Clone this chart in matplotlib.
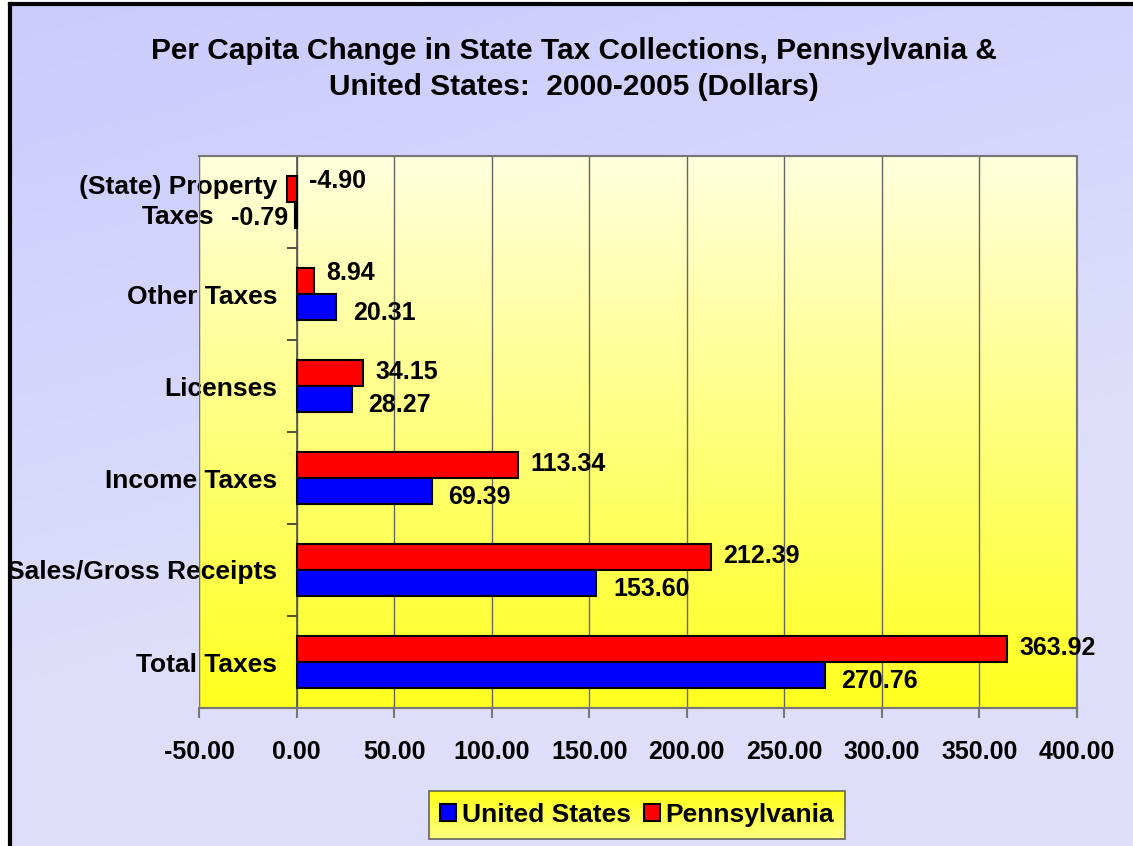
import numpy as np
import matplotlib.pyplot as plt
from matplotlib.patches import Rectangle

plt.rcParams['font.family'] = ['Liberation Sans', 'DejaVu Sans']
plt.rcParams['font.weight'] = 'bold'

categories = ['(State) Property\nTaxes', 'Other Taxes', 'Licenses',
              'Income Taxes', 'Sales/Gross Receipts', 'Total Taxes']
us_values = [-0.79, 20.31, 28.27, 69.39, 153.60, 270.76]
pa_values = [-4.90, 8.94, 34.15, 113.34, 212.39, 363.92]
x_ticks = [-50, 0, 50, 100, 150, 200, 250, 300, 350, 400]

W, H = 1133, 846
fig = plt.figure(figsize=[W / 100, H / 100], dpi=100, facecolor='white')

# background with lavender gradient and black frame (left/top only visible)
bg = fig.add_axes([9.5 / W, -0.01, 1.0, 1.01 - 4.5 / H], zorder=-5)
gx, gy = np.meshgrid(np.linspace(0, 1, 200), np.linspace(0, 1, 200))
t = np.clip((gx * 0.35 + gy) / 0.8, 0, 1)
c0 = np.array([203, 203, 255]) / 255
c1 = np.array([222, 222, 250]) / 255
bg.imshow(c0 + (c1 - c0) * t[..., None], extent=[0, 1, 0, 1],
          aspect='auto', origin='upper')
bg.set_xticks([])
bg.set_yticks([])
for s in ['right', 'bottom']:
    bg.spines[s].set_visible(False)
for s in ['left', 'top']:
    bg.spines[s].set_linewidth(3)
    bg.spines[s].set_color('black')

ax = fig.add_axes([199 / W, 1 - 708 / H, (1077 - 199) / W, (708 - 156) / H])
ax.patch.set_visible(False)

# plot area yellow gradient
py = np.linspace(0, 1, 200)[:, None]
y0 = np.array([255, 255, 222]) / 255
y1 = np.array([255, 255, 30]) / 255
ax.imshow((y0 + (y1 - y0) * py)[:, None, :].repeat(2, axis=1),
          extent=[0, 1, 0, 1], transform=ax.transAxes, aspect='auto',
          origin='upper', zorder=0)

ypos = np.arange(len(categories))
bar_h = 0.283
ax.barh(ypos - bar_h / 2, pa_values, height=bar_h, color='#FF0000',
        edgecolor='black', linewidth=1.5, zorder=3, label='Pennsylvania')
ax.barh(ypos + bar_h / 2, us_values, height=bar_h, color='#0000FF',
        edgecolor='black', linewidth=1.5, zorder=3, label='United States')

ax.set_xlim(-50, 400)
ax.set_ylim(len(categories) - 0.5, -0.5)

# data labels
for i, v in enumerate(pa_values):
    dy = 6 if v < 10 else 1
    ax.annotate(f'{v:.2f}', (max(v, 0), i - bar_h / 2), xytext=(9, dy),
                textcoords='offset points', ha='left', va='center',
                fontsize=18, fontweight='bold', zorder=4)
for i, v in enumerate(us_values):
    if v < 0:
        ax.annotate(f'{v:.2f}', (v, i + bar_h / 2), xytext=(-5, -2),
                    textcoords='offset points', ha='right', va='center',
                    fontsize=18, fontweight='bold', zorder=4)
    else:
        ax.annotate(f'{v:.2f}', (v, i + bar_h / 2), xytext=(12, -4),
                    textcoords='offset points', ha='left', va='center',
                    fontsize=18, fontweight='bold', zorder=4)

# axes styling
ax.set_xticks(x_ticks)
ax.set_xticklabels([f'{x:.2f}' for x in x_ticks], fontsize=18, fontweight='bold')
ax.tick_params(axis='x', direction='out', length=7, width=1.5, color='#777777', pad=16)
ax.grid(axis='x', color='#666666', linewidth=1, zorder=1)
ax.set_axisbelow(True)

ax.spines['left'].set_position(('data', 0))
ax.spines['left'].set_color('#555555')
ax.spines['left'].set_linewidth(1.2)
ax.spines['left'].set_zorder(2)
for s in ['top', 'right', 'bottom']:
    ax.spines[s].set_color('#777777')
    ax.spines[s].set_linewidth(1.5)
ax.add_patch(Rectangle((0, 0), 1, 1, transform=ax.transAxes, fill=False,
                       edgecolor='#777777', linewidth=1.5, zorder=2))

ax.set_yticks(ypos)
ax.set_yticklabels(categories, fontsize=19, fontweight='bold', ha='right',
                   multialignment='center', linespacing=1.3)
ax.get_yticklabels()[0].set_va('center')
ax.set_yticks(np.arange(len(categories) + 1) - 0.5, minor=True)
ax.tick_params(axis='y', which='major', length=0, pad=14)
ax.tick_params(axis='y', which='minor', length=7, width=1.2, color='#333333')

fig.text(574 / W, 1 - 69 / H,
         'Per Capita Change in State Tax Collections, Pennsylvania &\n'
         'United States:  2000-2005 (Dollars)',
         ha='center', va='center', fontsize=21.5, fontweight='bold',
         linespacing=1.4)

handles, labels = ax.get_legend_handles_labels()
leg = fig.legend(handles[::-1], labels[::-1], loc='center',
                 bbox_to_anchor=(637 / W, 1 - 815 / H), ncol=2,
                 prop={'size': 19, 'weight': 'bold'}, frameon=True,
                 fancybox=False, edgecolor='#444444', facecolor='none',
                 handlelength=0.6, handleheight=0.6,
                 handletextpad=0.2, columnspacing=0.5, borderpad=0.45,
                 borderaxespad=0)
leg.get_frame().set_linewidth(1.2)

# yellow gradient behind the legend box
fig.canvas.draw()
bb = leg.get_frame().get_window_extent().transformed(fig.transFigure.inverted())
lg = fig.add_axes([bb.x0, bb.y0, bb.width, bb.height], zorder=4)
l0 = np.array([255, 255, 20]) / 255
l1 = np.array([255, 255, 130]) / 255
lg.imshow((l0 + (l1 - l0) * py)[:, None, :].repeat(2, axis=1),
          extent=[0, 1, 0, 1], aspect='auto', origin='upper')
lg.axis('off')

fig.savefig('out.png', dpi=100, facecolor='white')
